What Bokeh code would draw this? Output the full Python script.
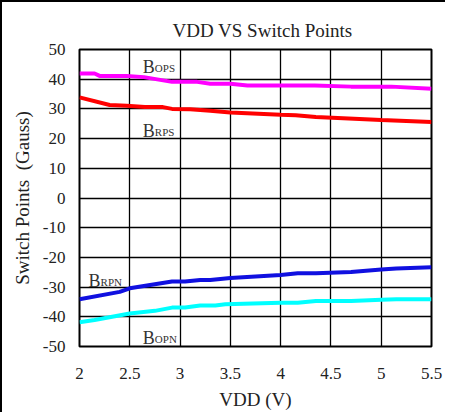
from bokeh.plotting import figure
from bokeh.layouts import column
from bokeh.models import ColumnDataSource, FixedTicker, CustomJSTickFormatter
from bokeh.core.properties import value
from bokeh.embed import file_html
from bokeh.resources import INLINE

# Data
vdd_bops = [2.0, 2.15, 2.2, 2.47, 2.64, 2.92, 3.17, 3.3, 3.5, 3.67, 4.34, 4.7, 5.1, 5.5]
bops = [41.9, 41.9, 41.1, 41.1, 40.7, 39.1, 39.1, 38.5, 38.5, 37.9, 37.9, 37.5, 37.5, 36.8]

vdd_brps = [2.0, 2.3, 2.47, 2.65, 2.83, 2.92, 3.1, 3.3, 3.5, 4.0, 4.15, 4.35, 5.0, 5.5]
brps = [33.9, 31.3, 31.1, 30.6, 30.6, 30.0, 29.9, 29.4, 28.8, 28.0, 27.9, 27.3, 26.3, 25.6]

vdd_brpn = [2.0, 2.4, 2.5, 2.92, 3.05, 3.2, 3.3, 3.5, 4.0, 4.17, 4.35, 4.7, 5.0, 5.15, 5.5]
brpn = [-34.1, -31.6, -30.4, -28.1, -28.1, -27.6, -27.6, -26.9, -25.9, -25.3, -25.3, -24.9, -24.1, -23.7, -23.3]

vdd_bopn = [2.0, 2.15, 2.5, 2.75, 2.92, 3.05, 3.2, 3.35, 3.45, 4.0, 4.17, 4.35, 4.7, 5.0, 5.15, 5.5]
bopn = [-41.8, -41.1, -38.9, -38.0, -36.9, -36.9, -36.2, -36.2, -35.8, -35.3, -35.3, -34.7, -34.7, -34.3, -34.1, -34.1]

x_ticks = [2, 2.5, 3, 3.5, 4, 4.5, 5, 5.5]
y_ticks = [-50, -40, -30, -20, -10, 0, 10, 20, 30, 40, 50]

label_main = ["B", "B", "B", "B"]
label_sub = ["OPS", "RPS", "RPN", "OPN"]
label_x = [2.63, 2.63, 2.09, 2.63]
label_y = [44.0, 22.5, -28.0, -47.1]

FONT = "Liberation Serif"
X_MIN, X_MAX = x_ticks[0], x_ticks[-1]
Y_MIN, Y_MAX = y_ticks[0], y_ticks[-1]

p = figure(frame_width=352, frame_height=297, x_range=(X_MIN, X_MAX), y_range=(Y_MIN, Y_MAX),
           output_backend="svg", toolbar_location=None,
           title="VDD VS Switch Points",
           min_border_left=60, min_border_right=14, min_border_top=30, min_border_bottom=50)

p.title.text_font = FONT
p.title.text_font_size = "19px"
p.title.text_font_style = "normal"
p.title.align = "left"
p.title.offset = 93
p.title.standoff = 17
p.title.text_color = "#222222"

p.outline_line_color = "black"
p.outline_line_width = 2
p.outline_line_alpha = 1

p.xgrid.grid_line_color = "black"
p.ygrid.grid_line_color = "black"
p.xgrid.grid_line_width = 1.3
p.ygrid.grid_line_width = 1.3
p.xgrid.grid_line_alpha = 1
p.ygrid.grid_line_alpha = 1

p.xaxis.ticker = FixedTicker(ticks=x_ticks)
p.yaxis.ticker = FixedTicker(ticks=y_ticks)
p.xaxis.formatter = CustomJSTickFormatter(code="return String(tick);")
p.yaxis.formatter = CustomJSTickFormatter(code="return String(tick);")

for ax in (p.xaxis, p.yaxis):
    ax.axis_line_color = None
    ax.major_tick_line_color = None
    ax.minor_tick_line_color = None
    ax.major_label_text_font = FONT
    ax.major_label_text_font_size = "17px"
    ax.major_label_text_color = "#222222"
    ax.axis_label_text_font = FONT
    ax.axis_label_text_font_size = "19px"
    ax.axis_label_text_font_style = "normal"
    ax.axis_label_text_color = "#222222"

p.xaxis.axis_label = "VDD (V)"
p.yaxis.axis_label = "Switch Points\u00a0 (Gauss)"
p.xaxis.major_label_standoff = 15
p.yaxis.major_label_standoff = 8
p.xaxis.axis_label_standoff = 7
p.yaxis.axis_label_standoff = 7

p.line(vdd_bops, bops, line_color="#FF00FF", line_width=4)
p.line(vdd_brps, brps, line_color="#FF0000", line_width=4)
p.line(vdd_brpn, brpn, line_color="#1010E0", line_width=4)
p.line(vdd_bopn, bopn, line_color="#00FFFF", line_width=4)

src = ColumnDataSource(dict(x=label_x, y=label_y, m=label_main, s=label_sub))
p.text(x="x", y="y", text="m", source=src, text_font=value(FONT),
       text_font_size="18px", text_baseline="alphabetic", text_align="left",
       text_color="#333333")
p.text(x="x", y="y", text="s", source=src, text_font=value(FONT),
       text_font_size="11px", text_baseline="alphabetic", text_align="left",
       x_offset=12, y_offset=1, text_color="#333333")

layout = column(p, styles={"border-left": "2px solid black", "border-top": "2px solid black",
                           "padding-top": "7px", "padding-left": "6px"})

open("out.html", "w").write(file_html(layout, INLINE))
